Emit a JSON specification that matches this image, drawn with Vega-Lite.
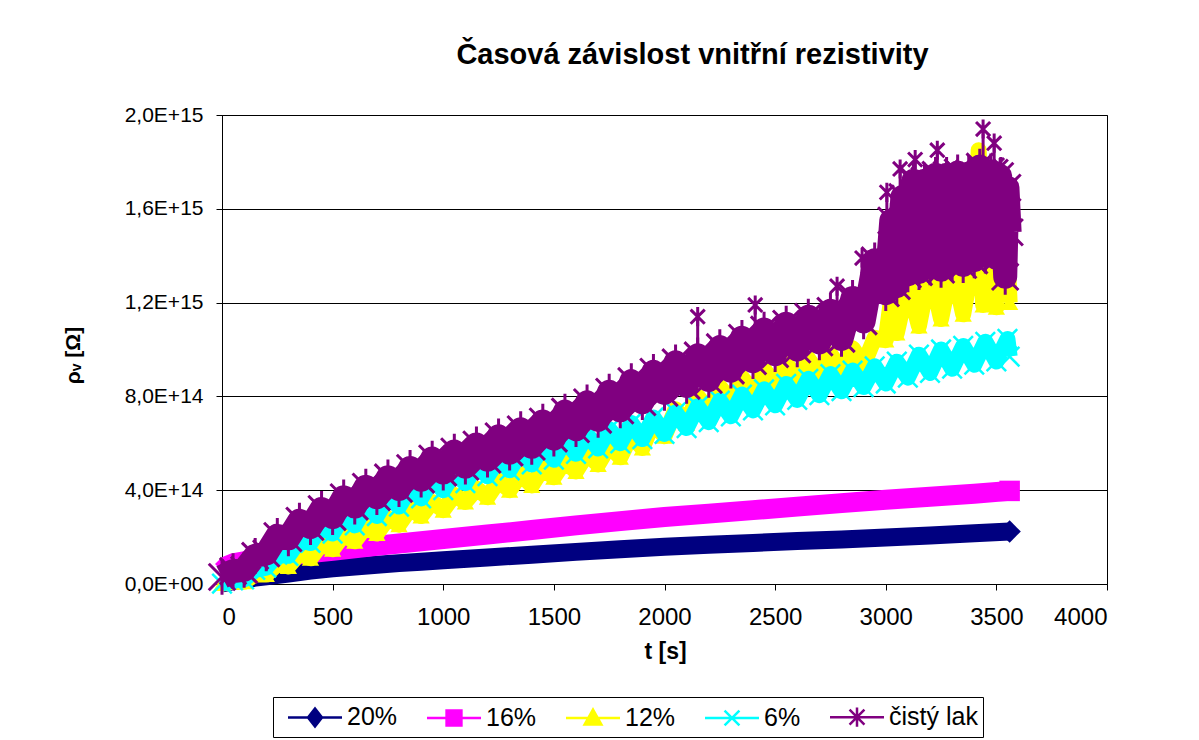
{
  "$schema": "https://vega.github.io/schema/vega-lite/v6.json",
  "width": 885,
  "height": 469,
  "autosize": "none",
  "padding": {"left": 222, "top": 115, "right": 92, "bottom": 156},
  "background": "white",
  "config": {
    "view": {"stroke": "black", "strokeWidth": 1},
    "font": "Liberation Sans"
  },
  "title": {
    "text": "Časová závislost vnitřní rezistivity",
    "font": "Liberation Sans",
    "fontSize": 29,
    "fontWeight": "bold",
    "color": "black",
    "anchor": "middle",
    "frame": "group",
    "baseline": "alphabetic",
    "offset": 11,
    "dx": 28
  },
  "data": {
    "values": [
      {"s":"20%","t":0,"v":3e12},{"s":"20%","t":50,"v":1.2e13},{"s":"20%","t":100,"v":2.0e13},{"s":"20%","t":150,"v":2.7e13},{"s":"20%","t":200,"v":3.3e13},{"s":"20%","t":300,"v":4.5e13},{"s":"20%","t":400,"v":5.7e13},{"s":"20%","t":500,"v":6.7e13},{"s":"20%","t":600,"v":7.5e13},{"s":"20%","t":700,"v":8.2e13},{"s":"20%","t":800,"v":8.9e13},{"s":"20%","t":900,"v":9.5e13},{"s":"20%","t":1000,"v":1.01e14},{"s":"20%","t":1200,"v":1.13e14},{"s":"20%","t":1400,"v":1.25e14},{"s":"20%","t":1600,"v":1.37e14},{"s":"20%","t":1800,"v":1.48e14},{"s":"20%","t":2000,"v":1.59e14},{"s":"20%","t":2200,"v":1.67e14},{"s":"20%","t":2400,"v":1.75e14},{"s":"20%","t":2600,"v":1.83e14},{"s":"20%","t":2800,"v":1.9e14},{"s":"20%","t":3000,"v":1.98e14},{"s":"20%","t":3200,"v":2.07e14},{"s":"20%","t":3400,"v":2.16e14},{"s":"20%","t":3560,"v":2.24e14},

      {"s":"16%","t":0,"v":5.5e13},{"s":"16%","t":25,"v":7.8e13},{"s":"16%","t":50,"v":8.8e13},{"s":"16%","t":100,"v":9.7e13},{"s":"16%","t":200,"v":1.08e14},{"s":"16%","t":300,"v":1.2e14},{"s":"16%","t":400,"v":1.32e14},{"s":"16%","t":500,"v":1.42e14},{"s":"16%","t":600,"v":1.52e14},{"s":"16%","t":700,"v":1.63e14},{"s":"16%","t":800,"v":1.73e14},{"s":"16%","t":1000,"v":1.92e14},{"s":"16%","t":1200,"v":2.11e14},{"s":"16%","t":1400,"v":2.3e14},{"s":"16%","t":1600,"v":2.5e14},{"s":"16%","t":1800,"v":2.68e14},{"s":"16%","t":2000,"v":2.86e14},{"s":"16%","t":2200,"v":3.0e14},{"s":"16%","t":2400,"v":3.15e14},{"s":"16%","t":2600,"v":3.3e14},{"s":"16%","t":2800,"v":3.45e14},{"s":"16%","t":3000,"v":3.59e14},{"s":"16%","t":3200,"v":3.72e14},{"s":"16%","t":3400,"v":3.85e14},{"s":"16%","t":3560,"v":3.97e14},

      {"s":"12%","t":0,"v":2e12},{"s":"12%","t":50,"v":1.0e13},{"s":"12%","t":100,"v":1.0e13},{"s":"12%","t":150,"v":4.0e13},{"s":"12%","t":200,"v":4.0e13},{"s":"12%","t":250,"v":8.5e13},{"s":"12%","t":300,"v":7.5e13},{"s":"12%","t":350,"v":1.3e14},{"s":"12%","t":400,"v":1.1e14},{"s":"12%","t":450,"v":1.7e14},{"s":"12%","t":500,"v":1.48e14},{"s":"12%","t":550,"v":2.1e14},{"s":"12%","t":600,"v":1.82e14},{"s":"12%","t":650,"v":2.45e14},{"s":"12%","t":700,"v":2.15e14},{"s":"12%","t":750,"v":2.8e14},{"s":"12%","t":800,"v":2.53e14},{"s":"12%","t":850,"v":3.2e14},{"s":"12%","t":900,"v":2.9e14},{"s":"12%","t":950,"v":3.5e14},{"s":"12%","t":1000,"v":3.15e14},{"s":"12%","t":1050,"v":3.8e14},{"s":"12%","t":1100,"v":3.5e14},{"s":"12%","t":1150,"v":4.07e14},{"s":"12%","t":1200,"v":3.7e14},{"s":"12%","t":1250,"v":4.4e14},{"s":"12%","t":1300,"v":4.0e14},{"s":"12%","t":1350,"v":4.68e14},{"s":"12%","t":1400,"v":4.2e14},{"s":"12%","t":1450,"v":4.95e14},{"s":"12%","t":1500,"v":4.55e14},{"s":"12%","t":1550,"v":5.25e14},{"s":"12%","t":1600,"v":4.8e14},{"s":"12%","t":1650,"v":5.55e14},{"s":"12%","t":1700,"v":5.1e14},{"s":"12%","t":1750,"v":5.9e14},{"s":"12%","t":1800,"v":5.4e14},{"s":"12%","t":1850,"v":6.35e14},{"s":"12%","t":1900,"v":5.8e14},{"s":"12%","t":1950,"v":6.9e14},{"s":"12%","t":2000,"v":6.3e14},{"s":"12%","t":2050,"v":7.45e14},{"s":"12%","t":2100,"v":6.85e14},{"s":"12%","t":2150,"v":8.0e14},{"s":"12%","t":2200,"v":7.4e14},{"s":"12%","t":2250,"v":8.4e14},{"s":"12%","t":2300,"v":7.8e14},{"s":"12%","t":2350,"v":8.8e14},{"s":"12%","t":2400,"v":8.2e14},{"s":"12%","t":2450,"v":9.15e14},{"s":"12%","t":2500,"v":8.5e14},{"s":"12%","t":2550,"v":9.4e14},{"s":"12%","t":2600,"v":8.7e14},{"s":"12%","t":2650,"v":9.6e14},{"s":"12%","t":2700,"v":8.9e14},{"s":"12%","t":2750,"v":9.8e14},{"s":"12%","t":2800,"v":9.1e14},{"s":"12%","t":2850,"v":1.005e15},{"s":"12%","t":2900,"v":9.35e14},{"s":"12%","t":2950,"v":1.05e15},{"s":"12%","t":3000,"v":1.04e15},{"s":"12%","t":3025,"v":1.22e15},{"s":"12%","t":3050,"v":1.07e15},{"s":"12%","t":3100,"v":1.28e15},{"s":"12%","t":3150,"v":1.1e15},{"s":"12%","t":3200,"v":1.34e15},{"s":"12%","t":3250,"v":1.13e15},{"s":"12%","t":3300,"v":1.36e15},{"s":"12%","t":3350,"v":1.15e15},{"s":"12%","t":3400,"v":1.41e15},{"s":"12%","t":3420,"v":1.85e15},{"s":"12%","t":3440,"v":1.19e15},{"s":"12%","t":3480,"v":1.55e15},{"s":"12%","t":3500,"v":1.18e15},{"s":"12%","t":3520,"v":1.46e15},{"s":"12%","t":3540,"v":1.6e15},{"s":"12%","t":3560,"v":1.2e15},

      {"s":"6%","t":0,"v":2e12},{"s":"6%","t":50,"v":1.5e13},{"s":"6%","t":100,"v":2.0e13},{"s":"6%","t":150,"v":6.0e13},{"s":"6%","t":200,"v":7.0e13},{"s":"6%","t":250,"v":1.25e14},{"s":"6%","t":300,"v":1.2e14},{"s":"6%","t":350,"v":1.88e14},{"s":"6%","t":400,"v":1.75e14},{"s":"6%","t":450,"v":2.43e14},{"s":"6%","t":500,"v":2.15e14},{"s":"6%","t":550,"v":2.9e14},{"s":"6%","t":600,"v":2.5e14},{"s":"6%","t":650,"v":3.3e14},{"s":"6%","t":700,"v":2.9e14},{"s":"6%","t":750,"v":3.7e14},{"s":"6%","t":800,"v":3.3e14},{"s":"6%","t":850,"v":4.08e14},{"s":"6%","t":900,"v":3.65e14},{"s":"6%","t":950,"v":4.42e14},{"s":"6%","t":1000,"v":4.0e14},{"s":"6%","t":1050,"v":4.75e14},{"s":"6%","t":1100,"v":4.3e14},{"s":"6%","t":1150,"v":5.05e14},{"s":"6%","t":1200,"v":4.6e14},{"s":"6%","t":1250,"v":5.32e14},{"s":"6%","t":1300,"v":4.85e14},{"s":"6%","t":1350,"v":5.63e14},{"s":"6%","t":1400,"v":5.1e14},{"s":"6%","t":1450,"v":5.87e14},{"s":"6%","t":1500,"v":5.3e14},{"s":"6%","t":1550,"v":6.13e14},{"s":"6%","t":1600,"v":5.55e14},{"s":"6%","t":1650,"v":6.37e14},{"s":"6%","t":1700,"v":5.78e14},{"s":"6%","t":1750,"v":6.6e14},{"s":"6%","t":1800,"v":6.0e14},{"s":"6%","t":1850,"v":6.86e14},{"s":"6%","t":1900,"v":6.18e14},{"s":"6%","t":1950,"v":7.1e14},{"s":"6%","t":2000,"v":6.4e14},{"s":"6%","t":2050,"v":7.32e14},{"s":"6%","t":2100,"v":6.65e14},{"s":"6%","t":2150,"v":7.58e14},{"s":"6%","t":2200,"v":6.9e14},{"s":"6%","t":2250,"v":7.82e14},{"s":"6%","t":2300,"v":7.15e14},{"s":"6%","t":2350,"v":8.08e14},{"s":"6%","t":2400,"v":7.4e14},{"s":"6%","t":2450,"v":8.3e14},{"s":"6%","t":2500,"v":7.62e14},{"s":"6%","t":2550,"v":8.53e14},{"s":"6%","t":2600,"v":7.85e14},{"s":"6%","t":2650,"v":8.75e14},{"s":"6%","t":2700,"v":8.05e14},{"s":"6%","t":2750,"v":8.95e14},{"s":"6%","t":2800,"v":8.22e14},{"s":"6%","t":2850,"v":9.1e14},{"s":"6%","t":2900,"v":8.4e14},{"s":"6%","t":2950,"v":9.28e14},{"s":"6%","t":3000,"v":8.55e14},{"s":"6%","t":3050,"v":9.48e14},{"s":"6%","t":3100,"v":8.8e14},{"s":"6%","t":3150,"v":9.78e14},{"s":"6%","t":3200,"v":9.0e14},{"s":"6%","t":3250,"v":1.0e15},{"s":"6%","t":3300,"v":9.18e14},{"s":"6%","t":3350,"v":1.015e15},{"s":"6%","t":3400,"v":9.35e14},{"s":"6%","t":3450,"v":1.033e15},{"s":"6%","t":3500,"v":9.49e14},{"s":"6%","t":3550,"v":1.045e15},{"s":"6%","t":3560,"v":9.7e14},

      {"s":"čistý lak","t":0,"v":3.0e13},{"s":"čistý lak","t":50,"v":5.5e13},{"s":"čistý lak","t":100,"v":6.0e13},{"s":"čistý lak","t":150,"v":1.2e14},{"s":"čistý lak","t":200,"v":1.3e14},{"s":"čistý lak","t":250,"v":2.05e14},{"s":"čistý lak","t":300,"v":1.95e14},{"s":"čistý lak","t":350,"v":2.7e14},{"s":"čistý lak","t":400,"v":2.43e14},{"s":"čistý lak","t":450,"v":3.2e14},{"s":"čistý lak","t":500,"v":2.85e14},{"s":"čistý lak","t":550,"v":3.7e14},{"s":"čistý lak","t":600,"v":3.3e14},{"s":"čistý lak","t":650,"v":4.15e14},{"s":"čistý lak","t":700,"v":3.7e14},{"s":"čistý lak","t":750,"v":4.55e14},{"s":"čistý lak","t":800,"v":4.05e14},{"s":"čistý lak","t":850,"v":4.95e14},{"s":"čistý lak","t":900,"v":4.45e14},{"s":"čistý lak","t":950,"v":5.35e14},{"s":"čistý lak","t":1000,"v":4.75e14},{"s":"čistý lak","t":1050,"v":5.65e14},{"s":"čistý lak","t":1100,"v":5.0e14},{"s":"čistý lak","t":1150,"v":5.95e14},{"s":"čistý lak","t":1200,"v":5.3e14},{"s":"čistý lak","t":1250,"v":6.3e14},{"s":"čistý lak","t":1300,"v":5.6e14},{"s":"čistý lak","t":1350,"v":6.6e14},{"s":"čistý lak","t":1400,"v":5.85e14},{"s":"čistý lak","t":1450,"v":6.93e14},{"s":"čistý lak","t":1500,"v":6.2e14},{"s":"čistý lak","t":1550,"v":7.35e14},{"s":"čistý lak","t":1600,"v":6.6e14},{"s":"čistý lak","t":1650,"v":7.75e14},{"s":"čistý lak","t":1700,"v":7.0e14},{"s":"čistý lak","t":1750,"v":8.2e14},{"s":"čistý lak","t":1800,"v":7.4e14},{"s":"čistý lak","t":1850,"v":8.65e14},{"s":"čistý lak","t":1900,"v":7.75e14},{"s":"čistý lak","t":1950,"v":9.05e14},{"s":"čistý lak","t":2000,"v":8.15e14},{"s":"čistý lak","t":2050,"v":9.45e14},{"s":"čistý lak","t":2100,"v":8.45e14},{"s":"čistý lak","t":2150,"v":9.75e14},{"s":"čistý lak","t":2200,"v":8.7e14},{"s":"čistý lak","t":2250,"v":1.01e15},{"s":"čistý lak","t":2300,"v":9.1e14},{"s":"čistý lak","t":2350,"v":1.05e15},{"s":"čistý lak","t":2400,"v":9.5e14},{"s":"čistý lak","t":2450,"v":1.085e15},{"s":"čistý lak","t":2500,"v":9.8e14},{"s":"čistý lak","t":2550,"v":1.11e15},{"s":"čistý lak","t":2600,"v":1.0e15},{"s":"čistý lak","t":2650,"v":1.14e15},{"s":"čistý lak","t":2700,"v":1.03e15},{"s":"čistý lak","t":2750,"v":1.165e15},{"s":"čistý lak","t":2800,"v":1.045e15},{"s":"čistý lak","t":2850,"v":1.22e15},{"s":"čistý lak","t":2900,"v":1.12e15},{"s":"čistý lak","t":2950,"v":1.38e15},{"s":"čistý lak","t":3000,"v":1.24e15},{"s":"čistý lak","t":3025,"v":1.55e15},{"s":"čistý lak","t":3050,"v":1.27e15},{"s":"čistý lak","t":3075,"v":1.65e15},{"s":"čistý lak","t":3100,"v":1.32e15},{"s":"čistý lak","t":3125,"v":1.72e15},{"s":"čistý lak","t":3150,"v":1.33e15},{"s":"čistý lak","t":3175,"v":1.72e15},{"s":"čistý lak","t":3200,"v":1.35e15},{"s":"čistý lak","t":3225,"v":1.745e15},{"s":"čistý lak","t":3250,"v":1.34e15},{"s":"čistý lak","t":3275,"v":1.745e15},{"s":"čistý lak","t":3300,"v":1.37e15},{"s":"čistý lak","t":3325,"v":1.755e15},{"s":"čistý lak","t":3350,"v":1.36e15},{"s":"čistý lak","t":3375,"v":1.75e15},{"s":"čistý lak","t":3400,"v":1.38e15},{"s":"čistý lak","t":3425,"v":1.78e15},{"s":"čistý lak","t":3450,"v":1.4e15},{"s":"čistý lak","t":3475,"v":1.76e15},{"s":"čistý lak","t":3500,"v":1.39e15},{"s":"čistý lak","t":3517,"v":1.74e15},{"s":"čistý lak","t":3540,"v":1.31e15},{"s":"čistý lak","t":3550,"v":1.69e15},{"s":"čistý lak","t":3560,"v":1.5e15},

      {"s":"čistý lak","k":"spike","t":2150,"lo":9.3e14,"v":1.14e15},{"s":"čistý lak","k":"spike","t":2410,"lo":1.0e15,"v":1.19e15},{"s":"čistý lak","k":"spike","t":2780,"lo":1.1e15,"v":1.27e15},{"s":"čistý lak","k":"spike","t":2893,"lo":1.18e15,"v":1.39e15},{"s":"čistý lak","k":"spike","t":3005,"lo":1.35e15,"v":1.67e15},{"s":"čistý lak","k":"spike","t":3065,"lo":1.45e15,"v":1.77e15},{"s":"čistý lak","k":"spike","t":3133,"lo":1.5e15,"v":1.81e15},{"s":"čistý lak","k":"spike","t":3233,"lo":1.55e15,"v":1.85e15},{"s":"čistý lak","k":"spike","t":3440,"lo":1.6e15,"v":1.94e15},{"s":"čistý lak","k":"spike","t":3490,"lo":1.6e15,"v":1.88e15},{"s":"čistý lak","k":"spike","t":3520,"lo":1.55e15,"v":1.78e15}
    ]
  },
  "encoding": {
    "x": {
      "field": "t", "type": "quantitative",
      "scale": {"domain": [0, 4000], "nice": false, "zero": false},
      "axis": {
        "values": [0, 500, 1000, 1500, 2000, 2500, 3000, 3500, 4000],
        "format": "d",
        "grid": false,
        "domainColor": "black",
        "tickColor": "black",
        "tickSize": 6,
        "labelPadding": 15,
        "labelFont": "Liberation Sans",
        "labelFontSize": 24,
        "labelColor": "black",
        "title": "t [s]",
        "titleFont": "Liberation Sans",
        "titleFontSize": 23,
        "titleFontWeight": "bold",
        "titleColor": "black",
        "titleX": 443,
        "titleY": 67,
        "titleAlign": "center",
        "titleBaseline": "middle"
      }
    },
    "y": {
      "field": "v", "type": "quantitative",
      "scale": {"domain": [0, 2e15], "nice": false},
      "axis": {
        "values": [0, 4e14, 8e14, 1.2e15, 1.6e15, 2e15],
        "labelExpr": "datum.value == 0 ? '0,0E+00' : replace(upper(format(datum.value, '.1e')), '.', ',')",
        "grid": true,
        "gridColor": "black",
        "gridWidth": 1,
        "domainColor": "black",
        "tickColor": "black",
        "tickSize": 6,
        "labelPadding": 13,
        "labelFont": "Liberation Sans",
        "labelFontSize": 21,
        "labelColor": "black",
        "title": "ρᵥ [Ω]",
        "titleFont": "Liberation Sans",
        "titleFontSize": 21,
        "titleFontWeight": "bold",
        "titleColor": "black",
        "titleAngle": -90,
        "titleX": -149,
        "titleY": 240,
        "titleAlign": "center",
        "titleBaseline": "middle"
      }
    },
    "color": {
      "field": "s", "type": "nominal",
      "scale": {
        "domain": ["20%", "16%", "12%", "6%", "čistý lak"],
        "range": ["#000080", "#FF00FF", "#FFFF00", "#00FFFF", "#800080"]
      },
      "legend": {
        "orient": "none",
        "legendX": 51,
        "legendY": 582,
        "direction": "horizontal",
        "title": null,
        "strokeColor": "black",
        "fillColor": "white",
        "padding": 5,
        "columnPadding": 19,
        "labelOffset": 17,
        "symbolOffset": 22,
        "symbolSize": 729,
        "symbolStrokeWidth": 2.5,
        "symbolOpacity": 1,
        "labelFont": "Liberation Sans",
        "labelFontSize": 25,
        "labelColor": "black",
        "encode": {
          "symbols": {
            "update": {
              "shape": {"signal": "datum.value === '20%' ? 'M-2,0H2M0,-0.67L0.52,0L0,0.67L-0.52,0Z' : datum.value === '16%' ? 'M-2,0H2M-0.55,-0.55H0.55V0.55H-0.55Z' : datum.value === '12%' ? 'M-2,0H2M0,-0.62L0.62,0.48H-0.62Z' : datum.value === '6%' ? 'M-2,0H2M-0.55,-0.55L0.55,0.55M-0.55,0.55L0.55,-0.55' : 'M-2,0H2M-0.55,-0.55L0.55,0.55M-0.55,0.55L0.55,-0.55M0,-0.72V0.72'"},
              "fill": {"signal": "scale('color', datum.value)"},
              "stroke": {"signal": "scale('color', datum.value)"}
            }
          }
        }
      }
    }
  },
  "layer": [
    {"transform": [{"filter": "datum.s == '20%'"}], "mark": {"type": "line", "strokeWidth": 18, "strokeJoin": "round"}},
    {"transform": [{"filter": "datum.s == '20%' && datum.t == 3560"}], "mark": {"type": "point", "shape": "diamond", "filled": true, "size": 500, "opacity": 1}},
    {"transform": [{"filter": "datum.s == '16%'"}], "mark": {"type": "line", "strokeWidth": 20, "strokeJoin": "round"}},
    {"transform": [{"filter": "datum.s == '16%' && datum.t == 3560"}], "mark": {"type": "point", "shape": "square", "filled": true, "size": 420, "opacity": 1}},
    {"transform": [{"filter": "datum.s == '12%'"}], "mark": {"type": "line", "strokeWidth": 16, "strokeJoin": "round"}},
    {"transform": [{"filter": "datum.s == '12%'"}], "mark": {"type": "point", "shape": "triangle-up", "filled": true, "size": 300, "opacity": 1}},
    {"transform": [{"filter": "datum.s == '6%'"}], "mark": {"type": "line", "strokeWidth": 16, "strokeJoin": "round"}},
    {"transform": [{"filter": "datum.s == '6%'"}], "mark": {"type": "point", "shape": "M-1,-1L1,1M-1,1L1,-1", "filled": false, "size": 380, "strokeWidth": 2.5, "opacity": 1}},
    {"transform": [{"filter": "datum.s == 'čistý lak' && !datum.k"}], "mark": {"type": "line", "strokeWidth": 24, "strokeJoin": "round"}},
    {"transform": [{"filter": "datum.s == 'čistý lak' && !datum.k"}], "mark": {"type": "point", "shape": "M-1,-1L1,1M-1,1L1,-1M0,-1.35V1.35", "filled": false, "size": 700, "strokeWidth": 3, "opacity": 1}},
    {"transform": [{"filter": "datum.k == 'spike'"}], "mark": {"type": "rule", "strokeWidth": 3}, "encoding": {"y": {"field": "lo", "type": "quantitative"}, "y2": {"field": "v"}}},
    {"transform": [{"filter": "datum.k == 'spike'"}], "mark": {"type": "point", "shape": "M-1,-1L1,1M-1,1L1,-1M0,-1.35V1.35", "filled": false, "size": 200, "strokeWidth": 3, "opacity": 1}}
  ]
}
